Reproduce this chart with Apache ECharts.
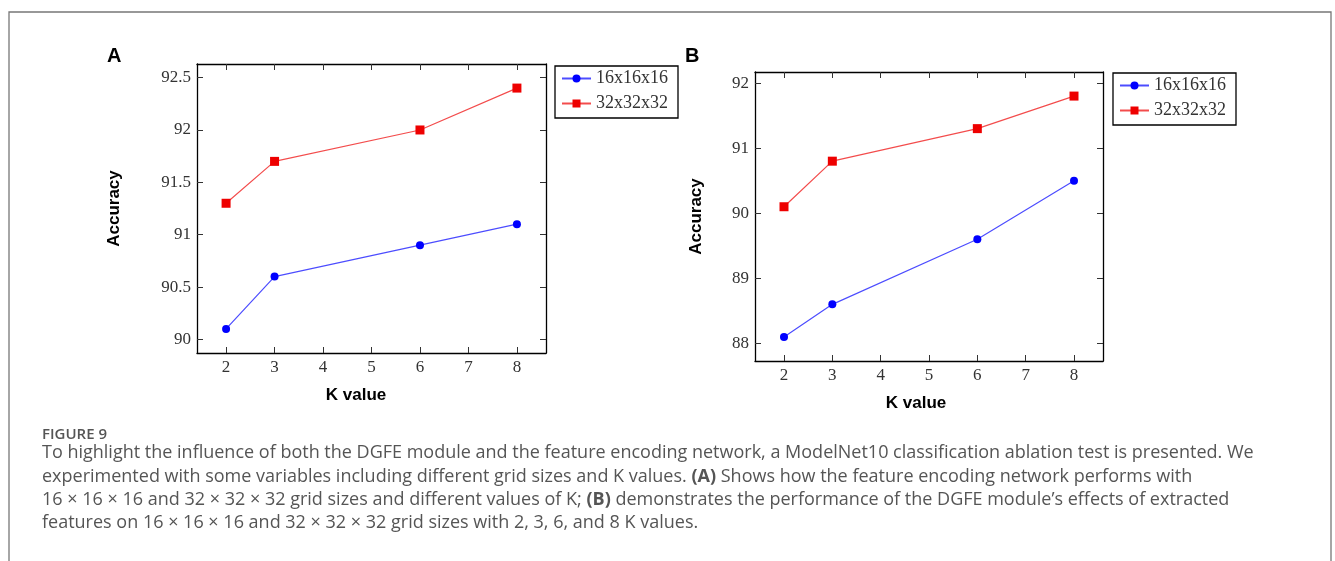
<!DOCTYPE html>
<html>
<head>
<meta charset="utf-8">
<script src="https://cdn.jsdelivr.net/npm/echarts@6/dist/echarts.min.js"></script>
<style>
  html, body { margin: 0; padding: 0; background: #fff; }
  #main { width: 1335px; height: 561px; }
</style>
</head>
<body>
<div id="main"></div>
<script>
// data
var kValues = [2, 3, 6, 8];
var seriesNames = ['16x16x16', '32x32x32'];
var accA16 = [90.1, 90.6, 90.9, 91.1];
var accA32 = [91.3, 91.7, 92.0, 92.4];
var accB16 = [88.1, 88.6, 89.6, 90.5];
var accB32 = [90.1, 90.8, 91.3, 91.8];
var xTicks = [2, 3, 4, 5, 6, 7, 8];
var yTicksA = [90, 90.5, 91, 91.5, 92, 92.5];
var yTicksB = [88, 89, 90, 91, 92];

function pairs(ys) {
    var out = [];
    for (var i = 0; i < kValues.length; i++) {
        out.push([kValues[i], ys[i]]);
    }
    return out;
}

var serif = '"Liberation Serif", "DejaVu Serif", serif';
var sans = '"Liberation Sans", Arial, sans-serif';
var capFont = '"Open Sans", sans-serif';

// axis helpers: pgfplots style box with inward ticks on every side
function xAxisCfg(grid, pos, showLabels, nameShift) {
    return {
        type: 'value', gridIndex: grid, position: pos,
        min: 1.4, max: 8.6,
        name: showLabels ? 'K value' : '',
        nameLocation: 'middle', nameGap: 34,
        nameTextStyle: { fontFamily: sans, fontWeight: 'bold', fontSize: 17, color: '#000', padding: [0, nameShift, 0, 0] },
        axisLine: { show: true, onZero: false, lineStyle: { color: '#000', width: 1.3 } },
        axisTick: { show: true, inside: true, length: 6, customValues: xTicks, lineStyle: { color: '#333', width: 1 } },
        axisLabel: { show: showLabels, customValues: xTicks, margin: 6, fontFamily: serif, fontSize: 17, color: '#333' },
        splitLine: { show: false }
    };
}
function yAxisCfg(grid, pos, showLabels, min, max, ticks, gap) {
    return {
        type: 'value', gridIndex: grid, position: pos,
        min: min, max: max,
        name: showLabels ? 'Accuracy' : '',
        nameLocation: 'middle', nameGap: gap, nameRotate: 90,
        nameTextStyle: { fontFamily: sans, fontWeight: 'bold', fontSize: 17, color: '#000' },
        axisLine: { show: true, onZero: false, lineStyle: { color: '#000', width: 1.3 } },
        axisTick: { show: true, inside: true, length: 6, customValues: ticks, lineStyle: { color: '#333', width: 1 } },
        axisLabel: { show: showLabels, customValues: ticks, margin: 6, fontFamily: serif, fontSize: 17, color: '#333' },
        splitLine: { show: false }
    };
}

function lineSeries(name, xi, yi, data, color, symbol, size) {
    return {
        name: name, type: 'line', xAxisIndex: xi, yAxisIndex: yi,
        data: data, symbol: symbol, symbolSize: size,
        itemStyle: { color: color },
        lineStyle: { color: color, width: 1.2, opacity: 0.7 },
        emphasis: { disabled: true },
        animation: false
    };
}

function legendCfg(left, top) {
    return {
        left: left, top: top, orient: 'vertical',
        data: seriesNames,
        itemWidth: 29, itemHeight: 10, itemGap: 6,
        padding: [3, 10, 5, 6],
        borderColor: '#000', borderWidth: 1.3, borderRadius: 0,
        textStyle: { fontFamily: serif, fontSize: 18, color: '#333', lineHeight: 19 },
        selectedMode: false
    };
}

var chart = echarts.init(document.getElementById('main'));

var option = {
    backgroundColor: '#fff',
    animation: false,
    textStyle: { fontFamily: serif },
    grid: [
        { left: 197, top: 64, width: 349, height: 289 },
        { left: 755, top: 72, width: 348, height: 289 }
    ],
    xAxis: [
        xAxisCfg(0, 'bottom', true, 31),
        xAxisCfg(0, 'top', false, 0),
        xAxisCfg(1, 'bottom', true, 26),
        xAxisCfg(1, 'top', false, 0)
    ],
    yAxis: [
        yAxisCfg(0, 'left', true, 89.87, 92.63, yTicksA, 74),
        yAxisCfg(0, 'right', false, 89.87, 92.63, yTicksA, 0),
        yAxisCfg(1, 'left', true, 87.73, 92.17, yTicksB, 50),
        yAxisCfg(1, 'right', false, 87.73, 92.17, yTicksB, 0)
    ],
    legend: [legendCfg(555, 66), legendCfg(1113, 73)],
    series: [
        lineSeries(seriesNames[0], 0, 0, pairs(accA16), '#0000ff', 'circle', 8),
        lineSeries(seriesNames[1], 0, 0, pairs(accA32), '#ee0000', 'rect', 9),
        lineSeries(seriesNames[0], 2, 2, pairs(accB16), '#0000ff', 'circle', 8),
        lineSeries(seriesNames[1], 2, 2, pairs(accB32), '#ee0000', 'rect', 9)
    ],
    graphic: [
        // outer frame of the figure
        { type: 'rect', shape: { x: 9, y: 12, width: 1322, height: 620 },
          style: { fill: 'none', stroke: '#777', lineWidth: 1.3 }, silent: true },
        { type: 'text', left: 107, top: 46,
          style: { text: 'A', font: 'bold 20px ' + sans, fill: '#000' } },
        { type: 'text', left: 685, top: 46,
          style: { text: 'B', font: 'bold 20px ' + sans, fill: '#000' } },
        { type: 'text', x: 42, y: 435,
          style: { text: 'FIGURE 9', font: '600 15px ' + capFont, fill: '#555', verticalAlign: 'middle' } },
        { type: 'text', x: 42, y: 453,
          style: { text: 'To highlight the influence of both the DGFE module and the feature encoding network, a ModelNet10 classification ablation test is presented. We',
                   font: '18px ' + capFont, fill: '#555', verticalAlign: 'middle' } },
        { type: 'text', x: 42, y: 476.5,
          style: { text: 'experimented with some variables including different grid sizes and K values. {b|(A)} Shows how the feature encoding network performs with',
                   font: '18px ' + capFont, fill: '#555', verticalAlign: 'middle',
                   rich: { b: { fontFamily: capFont, fontSize: 18, fontWeight: 'bold', fill: '#555' } } } },
        { type: 'text', x: 42, y: 499.5,
          style: { text: '16 \u00d7 16 \u00d7 16 and 32 \u00d7 32 \u00d7 32 grid sizes and different values of K; {b|(B)} demonstrates the performance of the DGFE module\u2019s effects of extracted',
                   font: '18px ' + capFont, fill: '#555', verticalAlign: 'middle',
                   rich: { b: { fontFamily: capFont, fontSize: 18, fontWeight: 'bold', fill: '#555' } } } },
        { type: 'text', x: 42, y: 522.5,
          style: { text: 'features on 16 \u00d7 16 \u00d7 16 and 32 \u00d7 32 \u00d7 32 grid sizes with 2, 3, 6, and 8 K values.',
                   font: '18px ' + capFont, fill: '#555', verticalAlign: 'middle' } }
    ]
};

chart.setOption(option);
</script>
</body>
</html>
